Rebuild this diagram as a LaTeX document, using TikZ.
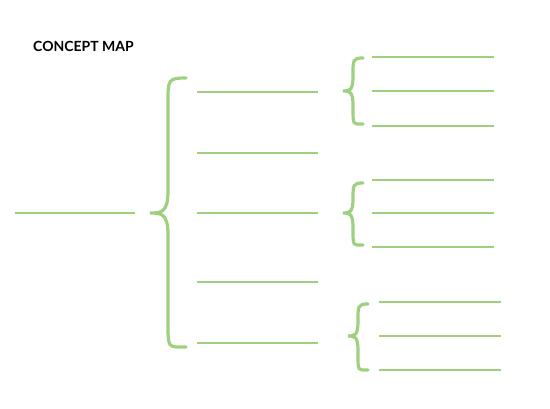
\documentclass[tikz,border=0pt]{standalone}
\usepackage{fontspec}
\setmainfont{Lato}
\definecolor{lgreen}{RGB}{158,208,128}
\newcommand\mybrace[5]{% spine x, top, tip, bottom, half-width
\draw[brace] (#1+#5,-#2) .. controls (#1,-#2) and (#1,-#2-2) .. (#1,-#2-#5-6)
  -- (#1,-#3+#5+4) .. controls (#1,-#3) and (#1-#5*0.4,-#3) .. (#1-#5,-#3)
  .. controls (#1-#5*0.4,-#3) and (#1,-#3) .. (#1,-#3-#5-4)
  -- (#1,-#4+#5+6) .. controls (#1,-#4-2) and (#1,-#4) .. (#1+#5,-#4);}
\begin{document}
\begin{tikzpicture}[x=1pt,y=1pt,
  ln/.style={draw=lgreen,line width=1.4pt},
  brace/.style={draw=lgreen,line width=3.2pt,line cap=round}]
\useasboundingbox (0,0) rectangle (550,-409);
\node[anchor=west,inner sep=0pt,font=\bfseries\fontsize{14}{16}\selectfont] (title) at (33,-46) {CONCEPT MAP};
\draw[ln] (15,-213) -- (135,-213);
\mybrace{168}{78}{213}{347}{18}
\foreach \y in {92,153,213,282,343} \draw[ln] (197,-\y) -- (318,-\y);
\mybrace{353}{58}{91}{124}{10}
\foreach \y in {57,91,126} \draw[ln] (372,-\y) -- (494,-\y);
\mybrace{353}{183}{213}{245}{10}
\foreach \y in {180,213,247} \draw[ln] (372,-\y) -- (494,-\y);
\mybrace{358}{304}{336}{370}{10}
\foreach \y in {302,336,370} \draw[ln] (379,-\y) -- (501,-\y);
\end{tikzpicture}
\end{document}
